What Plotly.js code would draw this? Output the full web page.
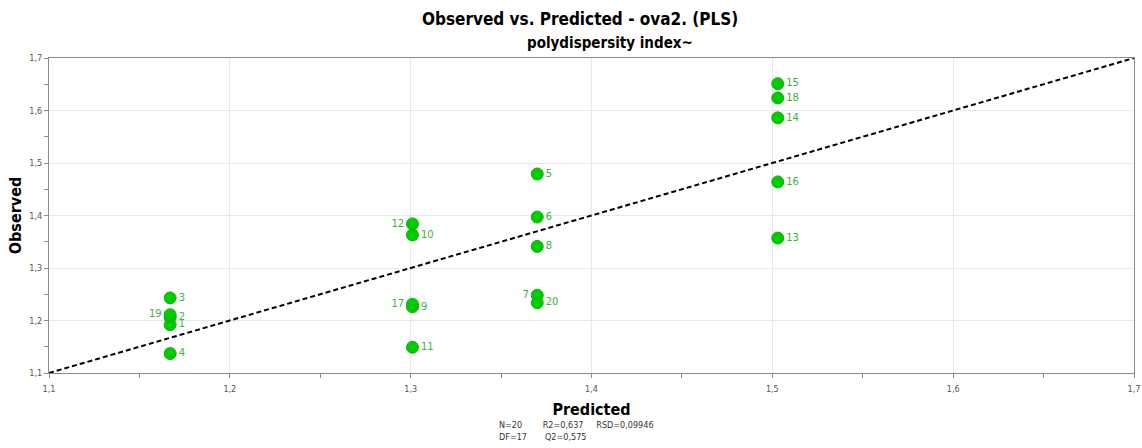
<!DOCTYPE html>
<html>
<head>
<meta charset="utf-8">
<script src="https://cdn.plot.ly/plotly-3.0.1.min.js"></script>
<style>
  html, body { margin: 0; padding: 0; background: #ffffff; }
  #chart { width: 1142px; height: 448px; }
</style>
</head>
<body>
<div id="chart"></div>
<script>
// Observation ids, model predictions and measured values (polydispersity index)
const obsIds    = ["1", "2", "3", "4", "5", "6", "7", "8", "9", "10",
                   "11", "12", "13", "14", "15", "16", "17", "18", "19", "20"];
const predicted = [1.167, 1.167, 1.167, 1.167, 1.370, 1.370, 1.370, 1.370, 1.301, 1.301,
                   1.301, 1.301, 1.503, 1.503, 1.503, 1.503, 1.301, 1.503, 1.167, 1.370];
const observed  = [1.192, 1.206, 1.243, 1.137, 1.479, 1.397, 1.248, 1.341, 1.226, 1.363,
                   1.149, 1.384, 1.357, 1.586, 1.651, 1.464, 1.231, 1.624, 1.211, 1.234];
// ids whose label sits on the left of the marker
const leftLabelled = ["7", "12", "17", "19"];

// Summary statistics of the model
const statsLine1 = "N=20        R2=0,637     RSD=0,09946";
const statsLine2 = "DF=17       Q2=0,575";

const axisRange = [1.1, 1.7];
const tickVals  = [1.1, 1.2, 1.3, 1.4, 1.5, 1.6, 1.7];

const font = "Tahoma, 'DejaVu Sans Condensed', 'Liberation Sans Narrow', sans-serif";

const points = {
  type: "scatter",
  mode: "markers+text",
  x: predicted,
  y: observed,
  text: obsIds,
  textposition: obsIds.map(id => leftLabelled.includes(id) ? "middle left" : "middle right"),
  textfont: { family: font, size: 11, color: "#3fae3f" },
  marker: { size: 12, color: "#00cc00", line: { color: "#10b010", width: 1 } },
  hoverinfo: "x+y+text",
  cliponaxis: false,
  showlegend: false
};

// 1:1 reference line across the full axis range
const diagonal = {
  type: "scatter",
  mode: "lines",
  x: axisRange,
  y: axisRange,
  line: { color: "#000000", width: 2, dash: "5px,3px" },
  hoverinfo: "skip",
  showlegend: false
};

const axisCommon = {
  range: axisRange,
  tickvals: tickVals,
  tickformat: ".1f",
  showgrid: true,
  gridcolor: "#e8e8e8",
  gridwidth: 1,
  zeroline: false,
  showline: true,
  linecolor: "#8c8c8c",
  linewidth: 1,
  mirror: true,
  ticks: "outside",
  ticklen: 4,
  tickcolor: "#8c8c8c",
  tickfont: { family: font, size: 9, color: "#555555" },
  minor: { dtick: 0.05, tick0: 1.1, ticks: "outside", ticklen: 4, tickcolor: "#8c8c8c", showgrid: false }
};

const layout = {
  width: 1142,
  height: 448,
  margin: { l: 49, r: 8, t: 58, b: 75 },
  paper_bgcolor: "#ffffff",
  plot_bgcolor: "#ffffff",
  separators: ", ",
  font: { family: font },
  xaxis: Object.assign({}, axisCommon, {
    ticklabelstandoff: 3,
    title: { text: "Predicted", font: { family: font, size: 16, color: "#000000", weight: "bold" }, standoff: 11 }
  }),
  yaxis: Object.assign({}, axisCommon, {
    title: { text: "Observed", font: { family: font, size: 16, color: "#000000", weight: "bold" }, standoff: 3 }
  }),
  annotations: [
    { text: "<b>Observed vs. Predicted - ova2. (PLS)</b>", xref: "paper", yref: "paper",
      x: 0.5, y: 1, yshift: 51, xshift: -12, showarrow: false,
      font: { family: font, size: 17, color: "#000000" } },
    { text: "<b>polydispersity index~</b>", xref: "paper", yref: "paper",
      x: 0.5, y: 1, yshift: 26, xshift: 18, showarrow: false,
      font: { family: font, size: 15, color: "#000000" } },
    { text: statsLine1, xref: "paper", yref: "paper", x: 0, y: 0, yshift: -52, xshift: 448,
      xanchor: "left", yanchor: "middle", showarrow: false, font: { family: font, size: 9, color: "#333333" } },
    { text: statsLine2, xref: "paper", yref: "paper", x: 0, y: 0, yshift: -64, xshift: 448,
      xanchor: "left", yanchor: "middle", showarrow: false, font: { family: font, size: 9, color: "#333333" } }
  ]
};

Plotly.newPlot("chart", [diagonal, points], layout, { displayModeBar: false, staticPlot: true });
</script>
</body>
</html>
